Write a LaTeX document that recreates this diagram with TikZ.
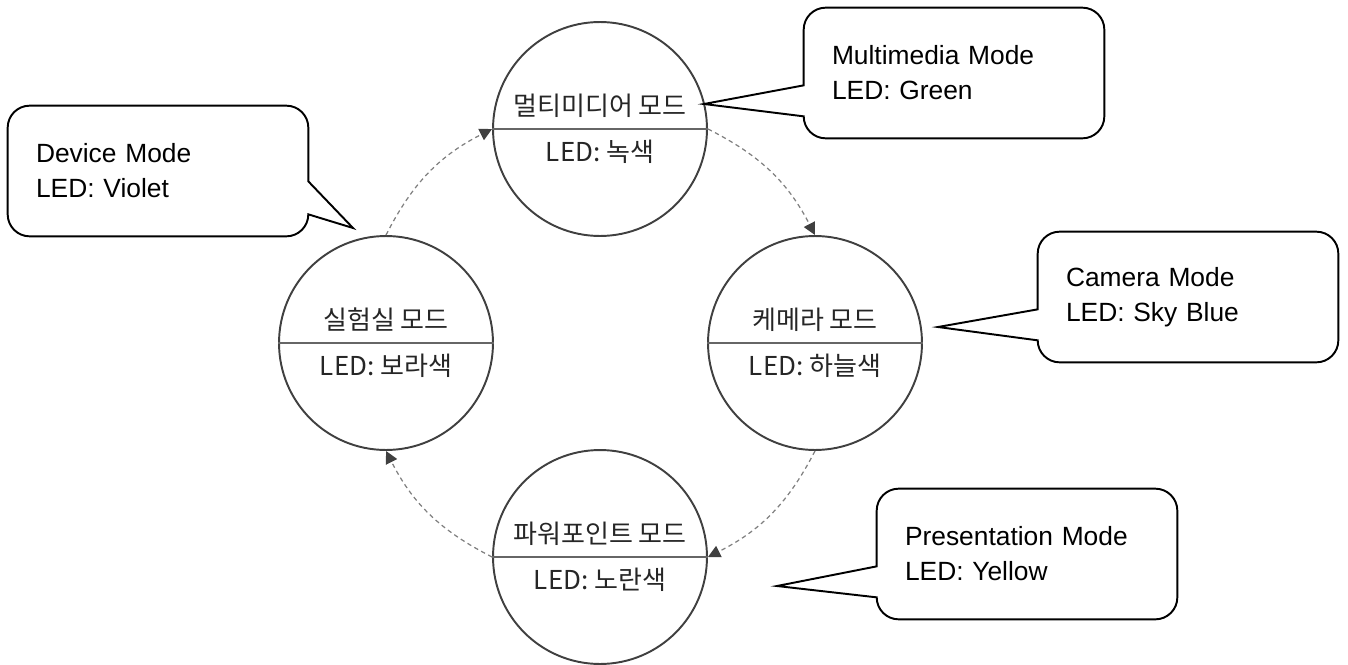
\documentclass[tikz,border=0pt]{standalone}
\usepackage{fontspec}
\setmainfont{Liberation Sans}
\newfontfamily\krfont{Noto Sans CJK KR}
\usetikzlibrary{arrows.meta}

\begin{document}
\begin{tikzpicture}[x=0.02cm, y=0.02cm,
    mode/.style={circle, draw=black!75, line width=1.1pt, minimum size=4.28cm, inner sep=0pt, align=center, text=black!85, font=\krfont\fontsize{14.8}{26}\selectfont},
    divider/.style={draw=black!60, line width=0.7pt},
    flow/.style={draw=black!50, line width=0.7pt, dash pattern=on 2.5pt off 2pt, -{Triangle[length=7pt, width=7pt, color=black!75]}, bend left=18},
    note/.style={minimum width=6cm, minimum height=2.6cm, inner xsep=0.56cm, text width=4.88cm, align=left, font=\fontsize{15}{19.9}\selectfont},
    callout/.style={draw=black, line width=1.1pt}]
    \useasboundingbox (0,0) rectangle (1348,664);

    % modes
    \node[mode] (multi) at (600,535) {멀티미디어 모드\\LED: 녹색};
    \node[mode] (lab) at (386,321) {실험실 모드\\LED: 보라색};
    \node[mode] (cam) at (815,321) {케메라 모드\\LED: 하늘색};
    \node[mode] (ppt) at (600,107) {파워포인트 모드\\LED: 노란색};
    \foreach \m in {multi,lab,cam,ppt}
        \draw[divider] (\m.west) -- (\m.east);

    \draw[flow] (lab.north) to (multi.west);
    \draw[flow] (multi.east) to (cam.north);
    \draw[flow] (cam.south) to (ppt.east);
    \draw[flow] (ppt.west) to (lab.south);

    % callouts
    \node[note] (notemm) at (954,591) {Multimedia Mode\\LED: Green};
    \node[note] (notecam) at (1188,367) {Camera Mode\\LED: Sky Blue};
    \node[note] (notepres) at (1027,110) {Presentation Mode\\LED: Yellow};
    \node[note] (notedev) at (158,493) {Device Mode\\LED: Violet};
    \coordinate (tipmm) at (704,560);
    \coordinate (tipcam) at (938,337);
    \coordinate (tippres) at (777,78);
    \coordinate (tipdev) at (353,436);

    \foreach \n in {mm,cam,pres}
        \draw[callout] ([xshift=0.44cm]note\n.north west) -- ([xshift=-0.44cm]note\n.north east)
            arc[start angle=90, end angle=0, radius=0.44cm] -- ([yshift=0.44cm]note\n.south east)
            arc[start angle=0, end angle=-90, radius=0.44cm] -- ([xshift=0.44cm]note\n.south west)
            arc[start angle=270, end angle=180, radius=0.44cm] -- (tip\n)
            -- ([yshift=1.06cm]note\n.south west) -- ([yshift=-0.44cm]note\n.north west)
            arc[start angle=180, end angle=90, radius=0.44cm] -- cycle;
    \draw[callout] ([xshift=0.44cm]notedev.north west) -- ([xshift=-0.44cm]notedev.north east)
        arc[start angle=90, end angle=0, radius=0.44cm] -- ([yshift=1.1cm]notedev.south east) -- (tipdev)
        -- ([yshift=0.44cm]notedev.south east) arc[start angle=0, end angle=-90, radius=0.44cm]
        -- ([xshift=0.44cm]notedev.south west) arc[start angle=270, end angle=180, radius=0.44cm]
        -- ([yshift=-0.44cm]notedev.north west) arc[start angle=180, end angle=90, radius=0.44cm] -- cycle;
\end{tikzpicture}
\end{document}
